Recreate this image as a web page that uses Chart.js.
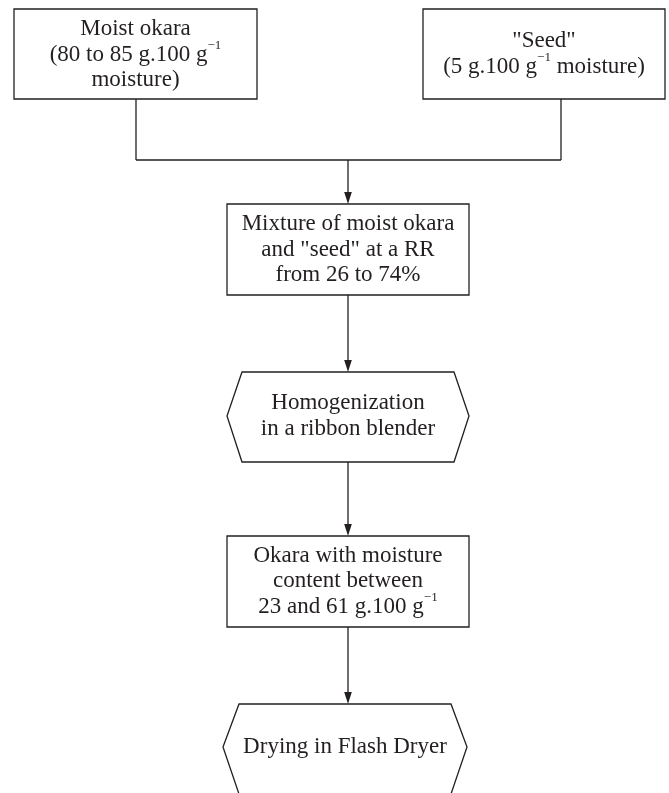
<!doctype html>
<html lang="en">
    <head>
        <meta charset="UTF-8" />
        <title>Okara drying flowchart</title>
        <script src="https://cdn.jsdelivr.net/npm/chart.js"></script>
        <style>
            html, body { margin: 0; padding: 0; background: #fff; }
            #wrap { width: 669px; height: 793px; position: relative; }
        </style>
    </head>

    <body>
        <div id="wrap"><canvas id="flow"></canvas></div>
        <script>
            // steps of the process (^{..} marks a superscript)
            const nodeLabels = [
                ['Moist okara', '(80 to 85 g.100 g^{−1}', 'moisture)'],
                ['"Seed"', '(5 g.100 g^{−1} moisture)'],
                ['Mixture of moist okara', 'and "seed" at a RR', 'from 26 to 74%'],
                ['Homogenization', 'in a ribbon blender'],
                ['Okara with moisture', 'content between', '23 and 61 g.100 g^{−1}'],
                ['Drying in Flash Dryer'],
            ]
            const nodeShapes = ['box', 'box', 'box', 'hex', 'box', 'hex']
            // from -> to
            const links = [[0, 2], [1, 2], [2, 3], [3, 4], [4, 5]]

            // layout, in the chart's own units (0..669 across, 0..793 down)
            const layout = {
                rects: [
                    [14, 9, 257, 99],
                    [423, 9, 665, 99],
                    [227, 204, 469, 295],
                    [227, 372, 469, 462],
                    [227, 536, 469, 627],
                    [223, 704, 467, 794],
                ],
                hexInset: [0, 0, 0, 15, 0, 16],
                textY: [54.5, 54, 249.5, 416, 581, 747],
                outX: [136, 561, 348, 348, 348, 348],
                mergeY: 160,
                lineHeight: 25.5,
                font: '23px "Liberation Serif", "DejaVu Serif", serif',
                supFont: '13px "Liberation Serif", "DejaVu Serif", serif',
                ink: '#231f20',
            }

            function drawRich(ctx, str, cx, cy) {
                const parts = []
                const re = /\^\{([^}]*)\}/g
                let last = 0, m
                while ((m = re.exec(str))) {
                    if (m.index > last) parts.push({ t: str.slice(last, m.index), sup: false })
                    parts.push({ t: m[1], sup: true })
                    last = re.lastIndex
                }
                if (last < str.length) parts.push({ t: str.slice(last), sup: false })
                let total = 0
                parts.forEach(p => {
                    ctx.font = p.sup ? layout.supFont : layout.font
                    p.w = ctx.measureText(p.t).width
                    total += p.w
                })
                let x = cx - total / 2
                parts.forEach(p => {
                    ctx.font = p.sup ? layout.supFont : layout.font
                    ctx.fillText(p.t, x, p.sup ? cy - 9 : cy)
                    x += p.w
                })
            }

            const flowPlugin = {
                id: 'flow',
                afterDraw(chart) {
                    const ctx = chart.ctx
                    const sx = v => chart.scales.x.getPixelForValue(v)
                    const sy = v => chart.scales.y.getPixelForValue(v)
                    ctx.save()
                    ctx.strokeStyle = layout.ink
                    ctx.fillStyle = layout.ink
                    ctx.lineWidth = 1.3

                    // shapes
                    nodeShapes.forEach((shape, i) => {
                        const [x1, y1, x2, y2] = layout.rects[i]
                        ctx.beginPath()
                        if (shape === 'hex') {
                            const k = layout.hexInset[i]
                            const ym = layout.textY[i]
                            ctx.moveTo(sx(x1 + k), sy(y1))
                            ctx.lineTo(sx(x2 - k), sy(y1))
                            ctx.lineTo(sx(x2), sy(ym))
                            ctx.lineTo(sx(x2 - k), sy(y2))
                            ctx.lineTo(sx(x1 + k), sy(y2))
                            ctx.lineTo(sx(x1), sy(ym))
                            ctx.closePath()
                        } else {
                            ctx.rect(sx(x1), sy(y1), sx(x2) - sx(x1), sy(y2) - sy(y1))
                        }
                        ctx.stroke()
                    })

                    // connectors
                    const arrow = (x, yTip) => {
                        ctx.beginPath()
                        ctx.moveTo(sx(x), sy(yTip))
                        ctx.lineTo(sx(x) - 3.8, sy(yTip) - 12)
                        ctx.lineTo(sx(x) + 3.8, sy(yTip) - 12)
                        ctx.closePath()
                        ctx.fill()
                    }
                    const into = {}
                    links.forEach(([a, b]) => (into[b] = (into[b] || []).concat(a)))
                    Object.keys(into).forEach(b => {
                        const srcs = into[b]
                        const tx = layout.outX[b]
                        const ty = layout.rects[b][1]
                        if (srcs.length > 1) {
                            const xs = srcs.map(a => layout.outX[a])
                            ctx.beginPath()
                            srcs.forEach(a => {
                                ctx.moveTo(sx(layout.outX[a]), sy(layout.rects[a][3]))
                                ctx.lineTo(sx(layout.outX[a]), sy(layout.mergeY))
                            })
                            ctx.moveTo(sx(Math.min(...xs)), sy(layout.mergeY))
                            ctx.lineTo(sx(Math.max(...xs)), sy(layout.mergeY))
                            ctx.moveTo(sx(tx), sy(layout.mergeY))
                            ctx.lineTo(sx(tx), sy(ty) - 6)
                            ctx.stroke()
                        } else {
                            const a = srcs[0]
                            ctx.beginPath()
                            ctx.moveTo(sx(layout.outX[a]), sy(layout.rects[a][3]))
                            ctx.lineTo(sx(tx), sy(ty) - 6)
                            ctx.stroke()
                        }
                        arrow(tx, ty)
                    })

                    // labels
                    ctx.textAlign = 'left'
                    ctx.textBaseline = 'middle'
                    nodeLabels.forEach((lines, i) => {
                        const [x1, , x2] = layout.rects[i]
                        const cx = sx((x1 + x2) / 2)
                        const cy = sy(layout.textY[i])
                        const top = cy - ((lines.length - 1) * layout.lineHeight) / 2
                        lines.forEach((ln, j) => drawRich(ctx, ln, cx, top + j * layout.lineHeight))
                    })
                    ctx.restore()
                },
            }

            new Chart(document.getElementById('flow'), {
                type: 'scatter',
                data: { datasets: [{ data: [] }] },
                options: {
                    responsive: true,
                    maintainAspectRatio: false,
                    animation: false,
                    layout: { padding: 0 },
                    plugins: { legend: { display: false }, tooltip: { enabled: false } },
                    scales: {
                        x: { type: 'linear', min: 0, max: 669, display: false },
                        y: { type: 'linear', min: 0, max: 793, reverse: true, display: false },
                    },
                },
                plugins: [flowPlugin],
            })
        </script>
    </body>
</html>
